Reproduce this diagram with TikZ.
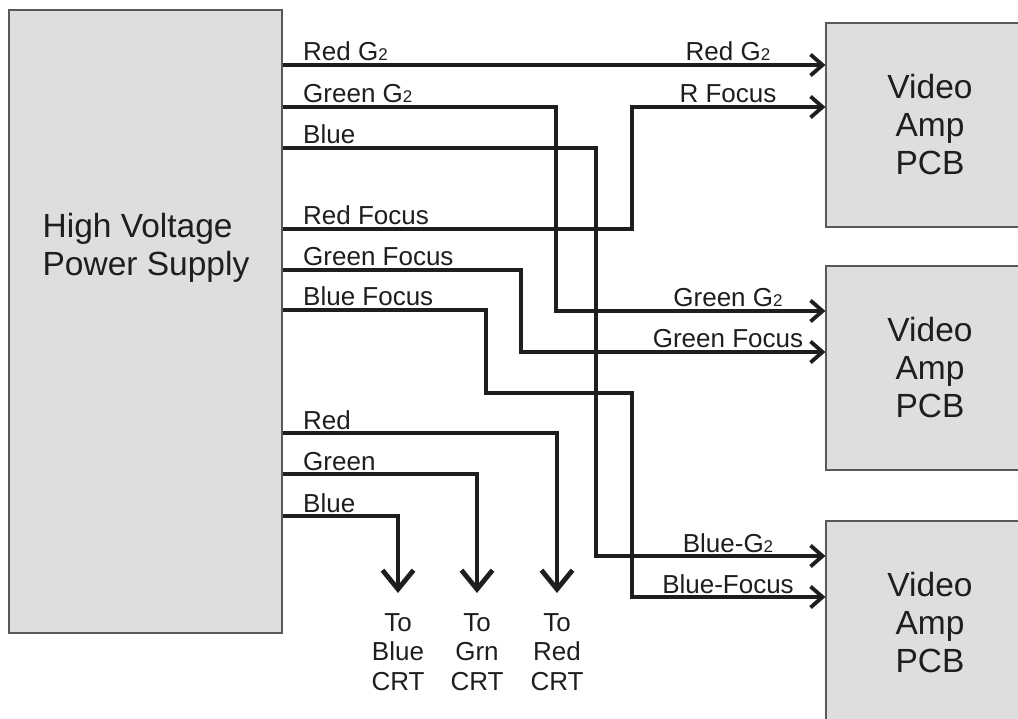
\documentclass[tikz,border=0pt]{standalone}
\usepackage{fontspec}
\setmainfont{Liberation Sans}
\usetikzlibrary{arrows.meta}
\definecolor{boxgray}{HTML}{DEDEDE}
\definecolor{ink}{HTML}{1E1E1E}
\newcommand{\Gtwo}{G{\fontsize{17}{17}\selectfont 2}}

\begin{document}
\begin{tikzpicture}[
  x=1pt, y=-1pt,
  font=\fontsize{26}{29.5}\selectfont, text=ink,
  blk/.style={rectangle, draw=black!65, line width=1.2pt, fill=boxgray, inner sep=0pt},
  big/.style={font=\fontsize{33.5}{38}\selectfont, align=center},
  lab/.style={inner sep=0pt, anchor=base west},
  rlab/.style={inner sep=0pt, anchor=base},
  dst/.style={inner sep=0pt, align=center, anchor=north},
  wire/.style={draw=ink, line width=3.8pt},
  fl/.style={wire, -{Straight Barb[length=12pt, width=21pt]}},
  crt/.style={wire, line width=4.8pt, -{Straight Barb[length=19pt, width=31pt]}}
]
\useasboundingbox (0,0) rectangle (1018,719);
\clip (0,0) rectangle (1018,719);
\node[blk, minimum width=273pt, minimum height=623pt] (hv) at (145.5,321.5) {};
\node[big, align=left] (hvtxt) at (146,248) {High Voltage\\Power Supply};
\node[blk, big, minimum width=208pt, minimum height=204pt] (amp1) at (930,125) {Video\\Amp\\PCB};
\node[blk, big, minimum width=208pt, minimum height=204pt] (amp2) at (930,368) {Video\\Amp\\PCB};
\node[blk, big, minimum width=208pt, minimum height=204pt] (amp3) at (930,623) {Video\\Amp\\PCB};
% supply side labels
\node[lab] (sRG) at (303,61) {Red \Gtwo};
\node[lab] (sGG) at (303,103) {Green \Gtwo};
\node[lab] (sBG) at (303,144) {Blue};
\node[lab] (sRF) at (303,225) {Red Focus};
\node[lab] (sGF) at (303,266) {Green Focus};
\node[lab] (sBF) at (303,306) {Blue Focus};
\node[lab] (sR) at (303,429) {Red};
\node[lab] (sG) at (303,470) {Green};
\node[lab] (sB) at (303,512) {Blue};
% board side labels
\node[rlab] (aRG) at (728,61) {Red \Gtwo};
\node[rlab] (aRF) at (728,103) {R Focus};
\node[rlab] (aGG) at (728,307) {Green \Gtwo};
\node[rlab] (aGF) at (728,348) {Green Focus};
\node[rlab] (aBG) at (728,552) {Blue-\Gtwo};
\node[rlab] (aBF) at (728,593) {Blue-Focus};
% CRT ends
\node[dst] (toB) at (398,613) {To\\Blue\\CRT};
\node[dst] (toG) at (477,613) {To\\Grn\\CRT};
\node[dst] (toR) at (557,613) {To\\Red\\CRT};
% wires
\draw[fl] (hv.east |- 0,65) -- (amp1.west |- 0,65);
\draw[fl] (hv.east |- 0,107) -| (556,311) -- (amp2.west |- 0,311);
\draw[fl] (hv.east |- 0,148) -| (596,556) -- (amp3.west |- 0,556);
\draw[fl] (hv.east |- 0,229) -| (632,107) -- (amp1.west |- 0,107);
\draw[fl] (hv.east |- 0,270) -| (521,352) -- (amp2.west |- 0,352);
\draw[fl] (hv.east |- 0,310) -| (486,393) -| (632,597) -- (amp3.west |- 0,597);
\draw[crt] (hv.east |- 0,433) -| ([yshift=20pt]toR.north);
\draw[crt] (hv.east |- 0,474) -| ([yshift=20pt]toG.north);
\draw[crt] (hv.east |- 0,516) -| ([yshift=20pt]toB.north);
\end{tikzpicture}
\end{document}
